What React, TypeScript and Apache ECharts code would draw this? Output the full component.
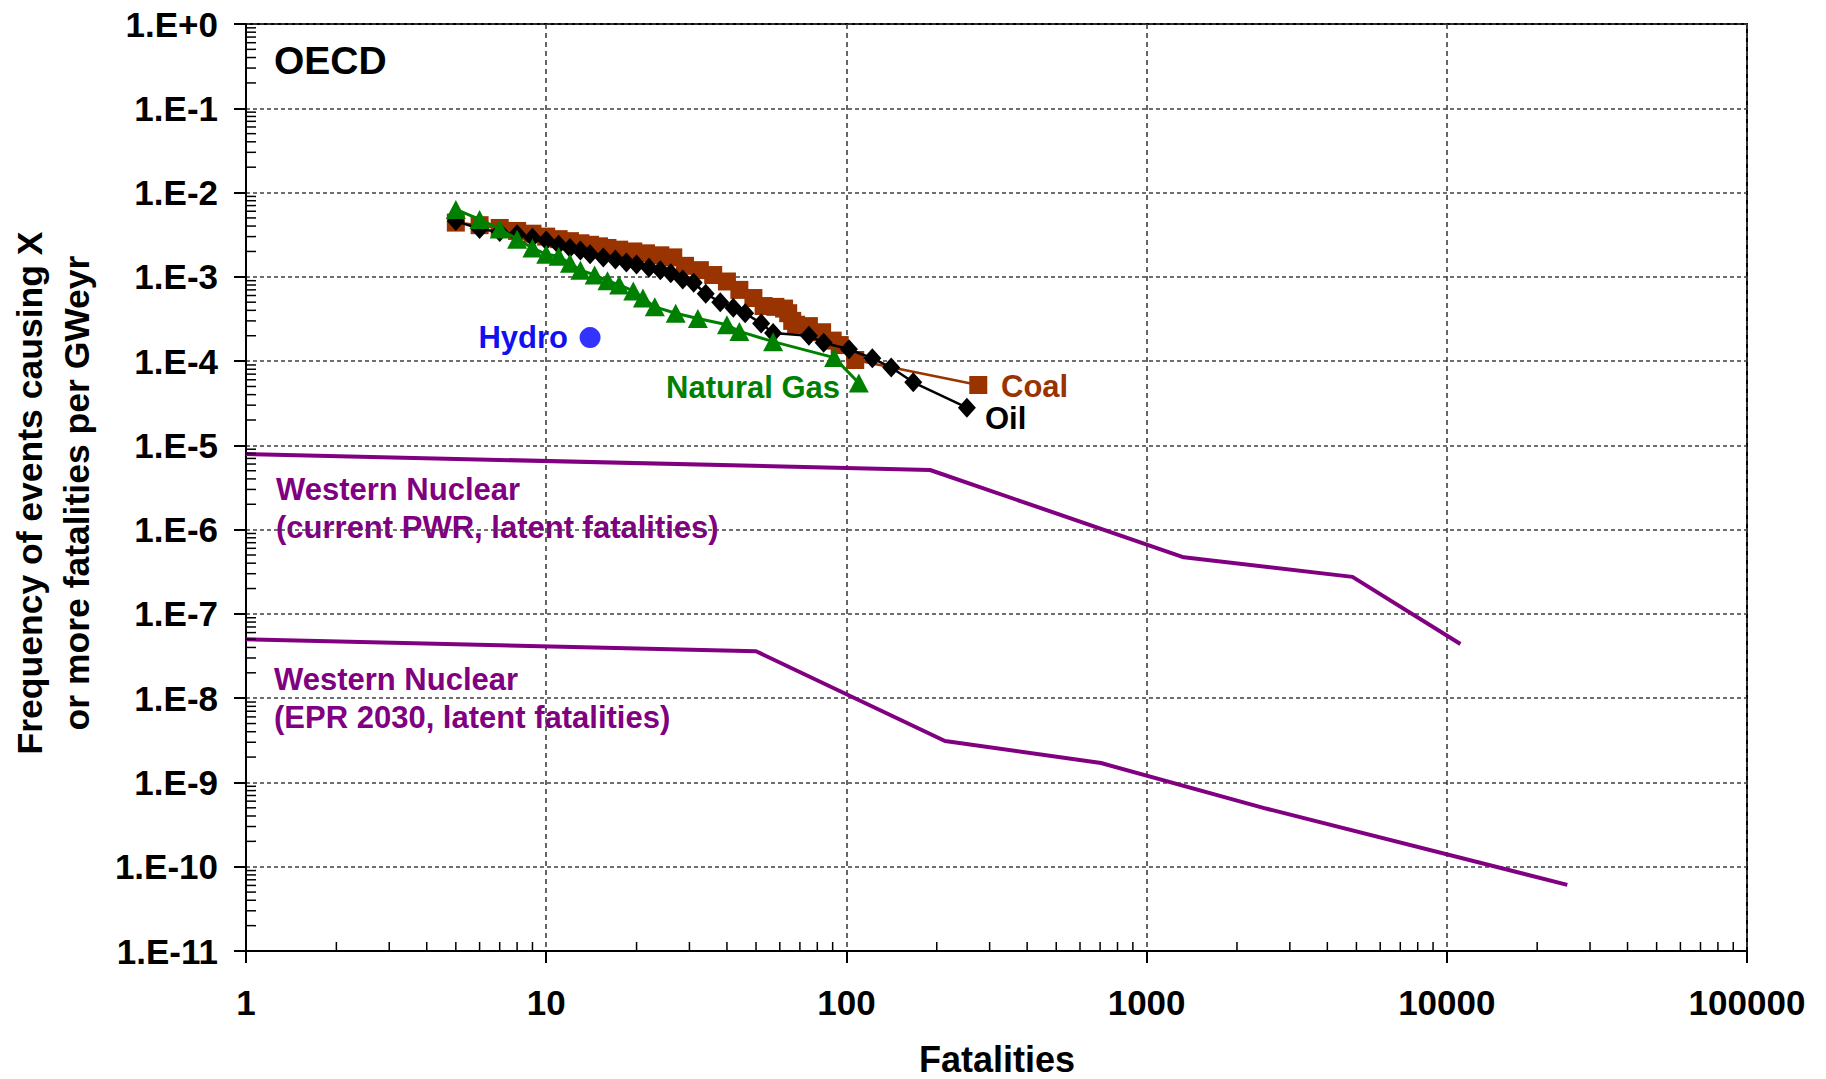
import React, { useEffect, useRef } from "react";
import * as echarts from "echarts";

// ---- Data ----
const coalX = [5, 6, 7, 8, 9, 10, 11, 12, 13, 14, 15, 16, 17.5, 19.5, 21.5, 24, 26.5, 29, 32.5, 36, 40, 44, 49, 53, 58, 62, 64, 66, 68, 75, 83, 90, 95, 107, 275];
const coalY = [4.4e-3, 4.1e-3, 3.8e-3, 3.5e-3, 3.25e-3, 3.0e-3, 2.8e-3, 2.65e-3, 2.5e-3, 2.4e-3, 2.3e-3, 2.2e-3, 2.1e-3, 2.0e-3, 1.9e-3, 1.8e-3, 1.7e-3, 1.35e-3, 1.2e-3, 1.05e-3, 8.8e-4, 7.0e-4, 5.6e-4, 4.5e-4, 4.4e-4, 4.2e-4, 3.7e-4, 3.0e-4, 2.7e-4, 2.6e-4, 2.2e-4, 1.75e-4, 1.55e-4, 1.03e-4, 5.2e-5];

const oilX = [5, 6, 7, 8, 9, 10, 11, 12, 13, 14, 15.5, 17, 18.5, 20, 22, 24, 26, 28.5, 31, 34, 38, 42, 46, 52, 57, 75, 84, 102, 122, 141, 167, 252];
const oilY = [4.6e-3, 3.7e-3, 3.4e-3, 3.2e-3, 2.9e-3, 2.7e-3, 2.4e-3, 2.2e-3, 2.05e-3, 1.85e-3, 1.7e-3, 1.6e-3, 1.48e-3, 1.4e-3, 1.28e-3, 1.2e-3, 1.1e-3, 9.3e-4, 8.5e-4, 6.3e-4, 5.0e-4, 4.3e-4, 3.7e-4, 2.8e-4, 2.15e-4, 2.0e-4, 1.65e-4, 1.38e-4, 1.08e-4, 8.4e-5, 5.6e-5, 2.8e-5];

const gasX = [5, 6, 7, 8, 9, 10, 11, 12, 13, 14.5, 16, 17.5, 19.5, 21, 23, 27, 32, 40, 44, 57, 91, 110];
const gasY = [6.3e-3, 4.8e-3, 3.7e-3, 2.8e-3, 2.2e-3, 1.85e-3, 1.75e-3, 1.45e-3, 1.2e-3, 1.05e-3, 9.0e-4, 8.0e-4, 6.8e-4, 5.6e-4, 4.4e-4, 3.7e-4, 3.2e-4, 2.7e-4, 2.25e-4, 1.7e-4, 1.1e-4, 5.5e-5];

const hydroX = [14];
const hydroY = [1.9e-4];

const pwrX = [1, 190, 1330, 4850, 11100];
const pwrY = [7.9e-6, 5.1e-6, 4.7e-7, 2.75e-7, 4.4e-8];

const eprX = [1, 50, 213, 705, 2500, 25200];
const eprY = [5.0e-8, 3.6e-8, 3.1e-9, 1.7e-9, 4.9e-10, 6.1e-11];

// Axis ranges / tick labels
const xMin = 1;
const xMax = 100000;
const yMinExp = -11;
const yMaxExp = 0;
const yTickLabel = (e: number) => (e >= 0 ? "1.E+" + e : "1.E" + e);

// minor tick positions (axis decoration)
const minorMultipliers = [2, 3, 4, 5, 6, 7, 8, 9];
const xDecades = [1, 10, 100, 1000, 10000];
const yDecades = [-11, -10, -9, -8, -7, -6, -5, -4, -3, -2, -1];

const FONT = '"Liberation Sans", Arial, sans-serif';

const toLog = (xs: number[], ys: number[]) => xs.map((x, i) => [x, Math.log10(ys[i])]);

export default function App() {
  const ref = useRef<HTMLDivElement>(null);

  useEffect(() => {
    document.body.style.margin = "0";
    const chart = echarts.init(ref.current!, null, { renderer: "svg" });

    const xMinorData: number[][] = [];
    xDecades.forEach((d) => minorMultipliers.forEach((m) => xMinorData.push([d * m, yMinExp])));
    const yMinorData: number[][] = [];
    yDecades.forEach((e) => minorMultipliers.forEach((m) => yMinorData.push([xMin, e + Math.log10(m)])));

    const option: any = {
      animation: false,
      backgroundColor: "#ffffff",
      grid: {
        left: 246,
        top: 24,
        width: 1501,
        height: 927,
        show: true,
        borderColor: "#000",
        borderWidth: 2,
        backgroundColor: "transparent",
      },
      xAxis: {
        type: "log",
        logBase: 10,
        min: xMin,
        max: xMax,
        axisLine: { show: true, onZero: false, lineStyle: { color: "#000", width: 2 } },
        axisTick: { show: true, inside: false, length: 12, lineStyle: { color: "#000", width: 2 } },
        axisLabel: {
          formatter: (v: number) => String(Math.round(v)),
          fontFamily: FONT,
          fontWeight: "bold",
          fontSize: 35,
          color: "#000",
          margin: 34,
        },
        splitLine: { show: true, lineStyle: { color: "#404040", width: 1.6, type: [5, 4] } },
      },
      yAxis: {
        type: "value",
        min: yMinExp,
        max: yMaxExp,
        interval: 1,
        axisLine: { show: true, onZero: false, lineStyle: { color: "#000", width: 2 } },
        axisTick: { show: true, inside: false, length: 12, lineStyle: { color: "#000", width: 2 } },
        axisLabel: {
          formatter: (v: number) => yTickLabel(Math.round(v)),
          fontFamily: FONT,
          fontWeight: "bold",
          fontSize: 35,
          color: "#000",
          margin: 28,
        },
        splitLine: { show: true, lineStyle: { color: "#404040", width: 1.6, type: [4, 3] } },
      },
      series: [
        {
          type: "custom",
          silent: true,
          data: xMinorData,
          renderItem: (_p: any, api: any) => {
            const pt = api.coord([api.value(0), api.value(1)]);
            return {
              type: "line",
              shape: { x1: pt[0], y1: pt[1], x2: pt[0], y2: pt[1] - 9 },
              style: { stroke: "#000", lineWidth: 1.5 },
            };
          },
          z: 5,
        },
        {
          type: "custom",
          silent: true,
          data: yMinorData,
          renderItem: (_p: any, api: any) => {
            const pt = api.coord([api.value(0), api.value(1)]);
            return {
              type: "line",
              shape: { x1: pt[0], y1: pt[1], x2: pt[0] + 10, y2: pt[1] },
              style: { stroke: "#000", lineWidth: 1.5 },
            };
          },
          z: 5,
        },
        {
          name: "Western Nuclear (current PWR)",
          type: "line",
          data: toLog(pwrX, pwrY),
          showSymbol: false,
          symbol: "none",
          lineStyle: { color: "#800080", width: 4 },
          z: 3,
        },
        {
          name: "Western Nuclear (EPR 2030)",
          type: "line",
          data: toLog(eprX, eprY),
          showSymbol: false,
          symbol: "none",
          lineStyle: { color: "#800080", width: 4 },
          z: 3,
        },
        {
          name: "Coal",
          type: "line",
          data: toLog(coalX, coalY),
          symbol: "rect",
          symbolSize: 18,
          itemStyle: { color: "#993300" },
          lineStyle: { color: "#993300", width: 2.5 },
          z: 4,
        },
        {
          name: "Oil",
          type: "line",
          data: toLog(oilX, oilY),
          symbol: "diamond",
          symbolSize: [18, 20],
          itemStyle: { color: "#000000" },
          lineStyle: { color: "#000000", width: 2.5 },
          z: 5,
        },
        {
          name: "Natural Gas",
          type: "line",
          data: toLog(gasX, gasY),
          symbol: "triangle",
          symbolSize: [20, 19],
          itemStyle: { color: "#008000" },
          lineStyle: { color: "#008000", width: 3 },
          z: 6,
        },
        {
          name: "Hydro",
          type: "scatter",
          data: toLog(hydroX, hydroY),
          symbol: "circle",
          symbolSize: 21,
          itemStyle: { color: "#0000ff" },
          z: 6,
        },
      ],
      graphic: [
        {
          type: "text",
          x: 274,
          y: 60,
          style: { text: "OECD", font: `bold 39px ${FONT}`, fill: "#000", align: "left", verticalAlign: "middle" },
        },
        {
          type: "text",
          x: 568,
          y: 337,
          style: { text: "Hydro", font: `bold 31px ${FONT}`, fill: "#1010f0", align: "right", verticalAlign: "middle" },
        },
        {
          type: "text",
          x: 666,
          y: 387,
          style: { text: "Natural Gas", font: `bold 31px ${FONT}`, fill: "#008000", align: "left", verticalAlign: "middle" },
        },
        {
          type: "text",
          x: 1001,
          y: 386,
          style: { text: "Coal", font: `bold 31px ${FONT}`, fill: "#993300", align: "left", verticalAlign: "middle" },
        },
        {
          type: "text",
          x: 985,
          y: 418,
          style: { text: "Oil", font: `bold 31px ${FONT}`, fill: "#000", align: "left", verticalAlign: "middle" },
        },
        {
          type: "text",
          x: 276,
          y: 508,
          style: {
            text: "Western Nuclear\n(current PWR, latent fatalities)",
            font: `bold 31px ${FONT}`,
            lineHeight: 38,
            fill: "#800080",
            align: "left",
            verticalAlign: "middle",
          },
        },
        {
          type: "text",
          x: 274,
          y: 698,
          style: {
            text: "Western Nuclear\n(EPR 2030, latent fatalities)",
            font: `bold 31px ${FONT}`,
            lineHeight: 38,
            fill: "#800080",
            align: "left",
            verticalAlign: "middle",
          },
        },
        {
          type: "text",
          x: 997,
          y: 1059,
          style: { text: "Fatalities", font: `bold 36px ${FONT}`, fill: "#000", align: "center", verticalAlign: "middle" },
        },
        {
          type: "text",
          x: 53,
          y: 493,
          rotation: Math.PI / 2,
          style: {
            text: "Frequency of events causing X\nor more fatalities per GWeyr",
            font: `bold 35.5px ${FONT}`,
            lineHeight: 47,
            fill: "#000",
            align: "center",
            verticalAlign: "middle",
          },
        },
      ],
    };

    chart.setOption(option);
    return () => chart.dispose();
  }, []);

  return (
    <div
      ref={ref}
      style={{ position: "absolute", left: 0, top: 0, width: 1826, height: 1079, background: "#fff" }}
    />
  );
}
